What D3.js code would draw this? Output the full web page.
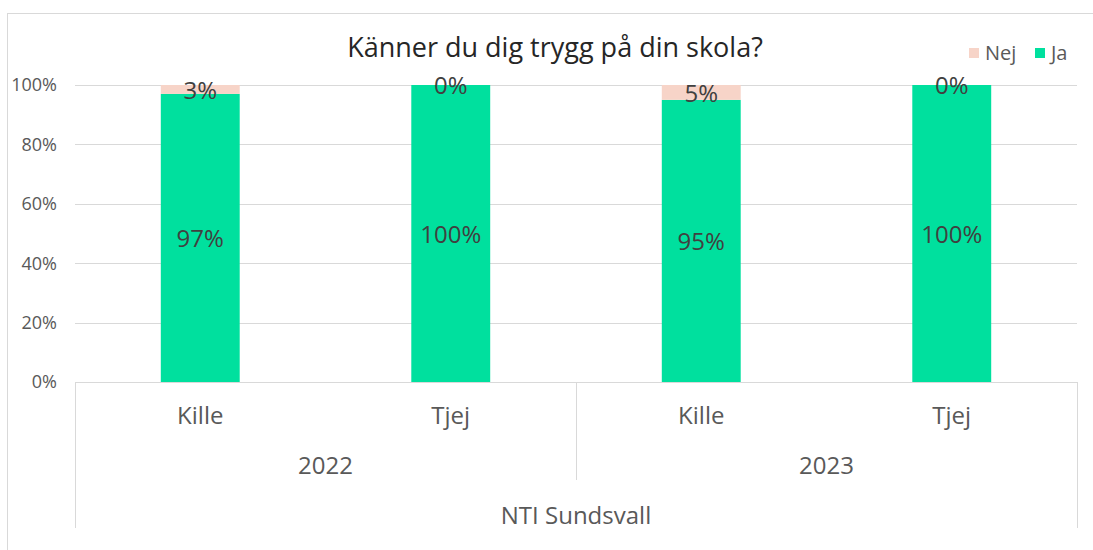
<!DOCTYPE html>
<html lang="sv">
<head>
<meta charset="utf-8">
<title>Känner du dig trygg på din skola?</title>
<script src="https://cdn.jsdelivr.net/npm/d3@7"></script>
<style>
body { margin:0; background:#fff; font-family: 'Open Sans', sans-serif; }
.grid line { stroke:#d9d9d9; stroke-width:1; shape-rendering:crispEdges; }
.ytick { fill:#595959; font-size:18px; }
.cat { fill:#595959; font-size:24px; }
.lbl { fill:#404040; font-size:24px; }
</style>
</head>
<body>
<svg id="chart" width="1093" height="550"></svg>
<script>
var years = ["2022", "2023"];
var categories = ["2022|Kille", "2022|Tjej", "2023|Kille", "2023|Tjej"];
var nej = [0.03, 0, 0.05, 0];
var ja = [0.97, 1, 0.95, 1];
var yTicks = [0, 0.2, 0.4, 0.6, 0.8, 1];
var seriesNames = ["Nej", "Ja"];
var colors = {Nej: "#f7d4c8", Ja: "#00e09e"};
var groupLabel = "NTI Sundsvall";
var title = "Känner du dig trygg på din skola?";

var svg = d3.select("#chart");
var left = 75, right = 1077, top0 = 85, base = 382;

// outer chart frame
svg.append("rect")
  .attr("x", 7.5).attr("y", 13.5).attr("width", 1100).attr("height", 600)
  .attr("fill", "none").attr("stroke", "#d9d9d9");

var x = d3.scaleBand().domain(categories).range([left, right]).paddingInner(0.685).paddingOuter(0.3425);
var xYear = d3.scaleBand().domain(years).range([left, right]);
var y = d3.scaleLinear().domain([0, 1]).range([base, top0]);
var fmt = d3.format(".0%");

// gridlines
svg.append("g").attr("class", "grid").selectAll("line").data(yTicks).join("line")
  .attr("x1", left).attr("x2", right)
  .attr("y1", function(d) { return Math.round(y(d)) + 0.5; })
  .attr("y2", function(d) { return Math.round(y(d)) + 0.5; });

svg.append("g").selectAll("text").data(yTicks).join("text")
  .attr("class", "ytick")
  .attr("x", 57).attr("y", function(d) { return y(d); })
  .attr("dy", "0.35em").attr("text-anchor", "end")
  .text(fmt);

// stacked bars
var rows = categories.map(function(c, i) { return {key: c, Ja: ja[i], Nej: nej[i]}; });
var stack = d3.stack().keys(["Ja", "Nej"])(rows);

var layers = svg.append("g").selectAll("g").data(stack).join("g")
  .attr("fill", function(d) { return colors[d.key]; });

layers.selectAll("rect").data(function(d) { return d; }).join("rect")
  .attr("x", function(d) { return x(d.data.key); })
  .attr("width", x.bandwidth())
  .attr("y", function(d) { return y(d[1]); })
  .attr("height", function(d) { return y(d[0]) - y(d[1]); });

// data labels
stack.forEach(function(layer) {
  svg.append("g").selectAll("text").data(layer).join("text")
    .attr("class", "lbl")
    .attr("text-anchor", "middle")
    .attr("dy", "0.35em")
    .attr("x", function(d) { return x(d.data.key) + x.bandwidth() / 2; })
    .attr("y", function(d) { return (y(d[0]) + y(d[1])) / 2 + 1; })
    .text(function(d) { return fmt(d.data[layer.key]); });
});

// category axis lines
var axis = svg.append("g").attr("stroke", "#d9d9d9").attr("fill", "none");
axis.append("line").attr("x1", left).attr("x2", right).attr("y1", base + 0.5).attr("y2", base + 0.5);
axis.append("line").attr("x1", left + 0.5).attr("x2", left + 0.5).attr("y1", base).attr("y2", 528);
axis.append("line").attr("x1", right + 0.5).attr("x2", right + 0.5).attr("y1", base).attr("y2", 528);
axis.selectAll("line.sep").data(years.slice(1)).join("line")
  .attr("class", "sep")
  .attr("x1", function(d) { return Math.round(xYear(d)) + 0.5; })
  .attr("x2", function(d) { return Math.round(xYear(d)) + 0.5; })
  .attr("y1", base).attr("y2", 480);

svg.append("g").selectAll("text").data(categories).join("text")
  .attr("class", "cat").attr("text-anchor", "middle")
  .attr("x", function(d) { return x(d) + x.bandwidth() / 2; })
  .attr("y", 424)
  .text(function(d) { return d.split("|")[1]; });

svg.append("g").selectAll("text").data(years).join("text")
  .attr("class", "cat").attr("text-anchor", "middle")
  .attr("x", function(d) { return xYear(d) + xYear.bandwidth() / 2; })
  .attr("y", 474)
  .text(function(d) { return d; });

svg.append("text").attr("class", "cat").attr("text-anchor", "middle")
  .attr("x", (left + right) / 2).attr("y", 524).text(groupLabel);

// title
svg.append("text").attr("x", 555).attr("y", 57).attr("text-anchor", "middle")
  .attr("fill", "#262626").style("font-size", "27px").text(title);

// legend
var legX = [969, 1035];
var leg = svg.append("g").selectAll("g").data(seriesNames).join("g")
  .attr("transform", function(d, i) { return "translate(" + legX[i] + ",48)"; });
leg.append("rect").attr("width", 10).attr("height", 10).attr("fill", function(d) { return colors[d]; });
leg.append("text").attr("x", 16).attr("y", 5).attr("dy", "0.35em")
  .attr("fill", "#595959").style("font-size", "20px").text(function(d) { return d; });
</script>
</body>
</html>
